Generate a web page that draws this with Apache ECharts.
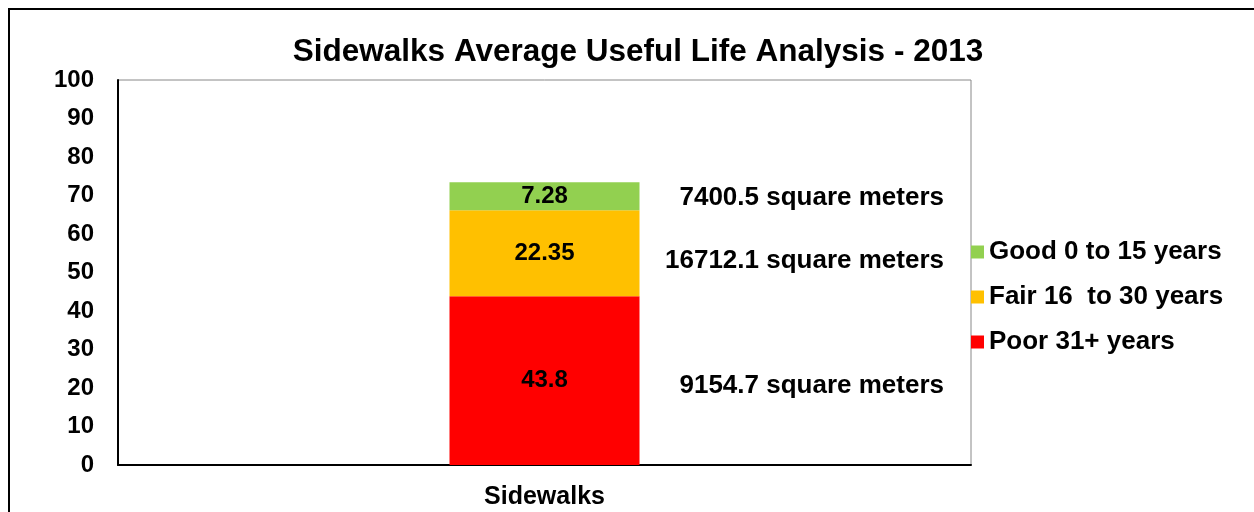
<!DOCTYPE html>
<html>
<head>
<meta charset="utf-8">
<script src="https://cdn.jsdelivr.net/npm/echarts@6/dist/echarts.min.js"></script>
<style>
  html, body { margin: 0; padding: 0; background: #fff; }
  #chart { width: 1254px; height: 512px; }
</style>
</head>
<body>
<div id="chart"></div>
<script>
const categories = ['Sidewalks'];
const seriesNames = ['Poor 31+ years', 'Fair 16  to 30 years', 'Good 0 to 15 years'];
const poorValues = [43.8];
const fairValues = [22.35];
const goodValues = [7.28];
const areaLabels = ['9154.7 square meters', '16712.1 square meters', '7400.5 square meters'];
const yTicks = [0, 10, 20, 30, 40, 50, 60, 70, 80, 90, 100];

const colors = ['#ff0000', '#ffc000', '#92d050'];
const font = 'Liberation Sans, Arial, sans-serif';

// midpoints of each stacked segment, used to hang the area annotations
const stacks = [poorValues[0], fairValues[0], goodValues[0]];
let base = 0;
const mids = stacks.map(v => { const m = base + v / 2; base += v; return m; });
const nudges = [6, 8, 2];

const chart = echarts.init(document.getElementById('chart'));

const barLabel = {
    show: true,
    position: 'inside',
    color: '#000',
    fontWeight: 'bold',
    fontSize: 24,
    fontFamily: font
};

chart.setOption({
    animation: false,
    title: {
        text: 'Sidewalks Average Useful Life Analysis - 2013',
        left: 633,
        textAlign: 'center',
        top: 31,
        textStyle: { fontFamily: font, fontWeight: 'bold', fontSize: 31.5, color: '#000' }
    },
    legend: {
        data: [seriesNames[2], seriesNames[1], seriesNames[0]],
        orient: 'vertical',
        left: 966,
        top: 234,
        itemWidth: 13,
        itemHeight: 13,
        itemGap: 19,
        icon: 'rect',
        textStyle: { fontFamily: font, fontWeight: 'bold', fontSize: 26, color: '#000', padding: [0, 0, 0, 0] }
    },
    grid: {
        left: 118,
        top: 80,
        width: 853,
        height: 385,
        show: true,
        borderColor: '#888',
        borderWidth: 1,
        containLabel: false
    },
    graphic: [{
        type: 'rect',
        shape: { x: 9, y: 9, width: 1400, height: 700 },
        style: { fill: 'none', stroke: '#000', lineWidth: 2 },
        silent: true
    }],
    xAxis: {
        type: 'category',
        data: categories,
        axisTick: { show: false },
        axisLine: { lineStyle: { color: '#000', width: 2 } },
        axisLabel: { margin: 20, color: '#000', fontWeight: 'bold', fontSize: 25, fontFamily: font }
    },
    yAxis: {
        type: 'value',
        min: yTicks[0],
        max: yTicks[yTicks.length - 1],
        interval: 10,
        splitLine: { show: false },
        axisTick: { show: false },
        axisLine: { show: true, lineStyle: { color: '#000', width: 2 } },
        axisLabel: { margin: 24, color: '#000', fontWeight: 'bold', fontSize: 24, fontFamily: font }
    },
    series: [{
        name: seriesNames[0],
        type: 'bar',
        stack: 'life',
        barWidth: 190,
        itemStyle: { color: colors[0] },
        label: barLabel,
        data: poorValues
    }, {
        name: seriesNames[1],
        type: 'bar',
        stack: 'life',
        itemStyle: { color: colors[1] },
        label: barLabel,
        data: fairValues
    }, {
        name: seriesNames[2],
        type: 'bar',
        stack: 'life',
        itemStyle: { color: colors[2] },
        label: barLabel,
        data: goodValues
    }, {
        type: 'scatter',
        symbolSize: 1,
        itemStyle: { color: 'rgba(0,0,0,0)', opacity: 1 },
        silent: true,
        label: {
            show: true,
            position: [400, 0],
            align: 'right',
            verticalAlign: 'middle',
            color: '#000',
            fontWeight: 'bold',
            fontSize: 26,
            fontFamily: font,
            formatter: p => areaLabels[p.dataIndex]
        },
        labelLayout: p => ({ dy: nudges[p.dataIndex] }),
        data: mids.map(m => [categories[0], m])
    }]
});
</script>
</body>
</html>
